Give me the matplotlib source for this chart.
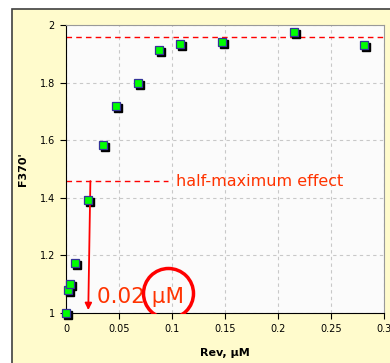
import matplotlib
matplotlib.use("Agg")
import matplotlib.pyplot as plt
import matplotlib.transforms as mtransforms
from matplotlib.patches import Rectangle

# data
rev = [0, 0.002, 0.004, 0.0085, 0.021, 0.035, 0.047, 0.068, 0.088, 0.108, 0.147, 0.215, 0.281]
f370 = [1.0, 1.08, 1.10, 1.174, 1.392, 1.583, 1.719, 1.799, 1.913, 1.934, 1.941, 1.976, 1.931]

x_ticks = [0, 0.05, 0.1, 0.15, 0.2, 0.25, 0.3]
x_tick_labels = ["0", "0.05", "0.1", "0.15", "0.2", "0.25", "0.3"]
y_ticks = [1, 1.2, 1.4, 1.6, 1.8, 2]
y_tick_labels = ["1", "1.2", "1.4", "1.6", "1.8", "2"]

max_effect = 1.958
half_effect = 1.458
ec50 = 0.021

red = "#ff0000"
text_red = "#ff3300"

fig = plt.figure(figsize=(3.9, 3.63), dpi=100)
fig.patch.set_facecolor("white")

# yellow panel behind the plot
panel = Rectangle((12 / 390, -0.05), 1.2, (363 - 9) / 363 + 0.05,
                  transform=fig.transFigure, facecolor="#fffbcc",
                  edgecolor="#404040", linewidth=1.2, zorder=-10)
fig.patches.append(panel)

ax = fig.add_axes([66 / 390, 50 / 363, 318 / 390, 288 / 363])
ax.set_facecolor("#fbfbfb")
ax.set_xlim(0, 0.3)
ax.set_ylim(1, 2)

ax.set_xticks(x_ticks)
ax.set_xticklabels(x_tick_labels)
ax.set_yticks(y_ticks)
ax.set_yticklabels(y_tick_labels)
ax.tick_params(labelsize=7, length=4, width=0.8, color="black", pad=4)

ax.grid(True, color="#c8c8c8", linestyle=(0, (3, 3)), linewidth=0.8)
ax.set_axisbelow(True)

ax.spines["left"].set_color("black")
ax.spines["bottom"].set_color("black")
ax.spines["top"].set_color("#999999")
ax.spines["right"].set_color("#999999")

# reference lines
ax.axhline(max_effect, color=red, linestyle=(0, (4, 3)), linewidth=1.0, zorder=2)
ax.plot([0, 0.096], [half_effect, half_effect], color=red,
        linestyle=(0, (4, 3)), linewidth=1.0, zorder=2)

# points with a dropped shadow
shadow = mtransforms.offset_copy(ax.transData, fig=fig, x=2, y=-2, units="dots")
ax.plot(rev, f370, linestyle="none", marker="s", markersize=5.5,
        color="black", transform=shadow, clip_on=False, zorder=3)
ax.plot(rev, f370, linestyle="none", marker="s", markersize=5.5,
        markerfacecolor="#00ff00", markeredgecolor="#333399",
        markeredgewidth=0.9, clip_on=False, zorder=4)

ax.text(0.1038, half_effect, "half-maximum effect", color=text_red,
        fontsize=11.5, va="center", ha="left")

ax.annotate("", xy=(ec50, 1.01), xytext=(ec50 + 0.002, half_effect),
            arrowprops=dict(arrowstyle="-|>", color=red, lw=1.3,
                            mutation_scale=10, shrinkA=0, shrinkB=0))

ax.text(0.029, 1.055, "0.02 \u03bcM", color=text_red, fontsize=15.5,
        ha="left", va="center")
ax.plot([0.0962], [1.069], marker="o", markersize=36, fillstyle="none",
        markeredgecolor=red, markeredgewidth=2.5, linestyle="none", zorder=5)

ax.set_xlabel("Rev, \u03bcM", fontsize=8, fontweight="bold")
ax.set_ylabel("F370'", fontsize=8, fontweight="bold")
ax.xaxis.set_label_coords(0.5, -0.12)
ax.yaxis.set_label_coords(-0.12, 0.5)

fig.savefig("out.png", dpi=100)
